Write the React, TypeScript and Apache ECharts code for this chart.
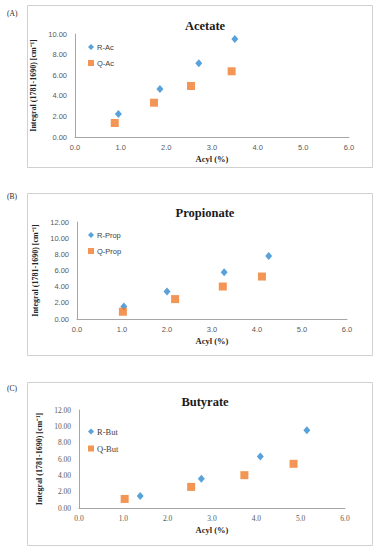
import React, { useEffect, useRef } from "react";
import * as echarts from "echarts";

const panelTitles = ["Acetate", "Propionate", "Butyrate"];
const panelLabels = ["(A)", "(B)", "(C)"];
const rNames = ["R-Ac", "R-Prop", "R-But"];
const qNames = ["Q-Ac", "Q-Prop", "Q-But"];

const acetateRX = [0.95, 1.86, 2.71, 3.5];
const acetateRY = [2.23, 4.66, 7.15, 9.51];
const acetateQX = [0.87, 1.73, 2.54, 3.43];
const acetateQY = [1.36, 3.33, 4.95, 6.38];

const propRX = [1.04, 2.0, 3.27, 4.26];
const propRY = [1.56, 3.4, 5.78, 7.79];
const propQX = [1.02, 2.18, 3.24, 4.11];
const propQY = [0.9, 2.46, 4.02, 5.25];

const butRX = [1.38, 2.76, 4.09, 5.14];
const butRY = [1.48, 3.57, 6.31, 9.51];
const butQX = [1.03, 2.53, 3.73, 4.84];
const butQY = [1.11, 2.58, 4.02, 5.41];

const yMaxes = [10, 12, 12];
const xMax = 6;

const pair = (xs: number[], ys: number[]) => xs.map((x, i) => [x, ys[i]]);

export default function App() {
  const ref = useRef<HTMLDivElement>(null);
  useEffect(() => {
    document.body.style.margin = "0";
    const chart = echarts.init(ref.current!, null, { renderer: "svg" });
    const rData = [pair(acetateRX, acetateRY), pair(propRX, propRY), pair(butRX, butRY)];
    const qData = [pair(acetateQX, acetateQY), pair(propQX, propQY), pair(butQX, butQY)];

    const grids = [
      { left: 75, right: 28, top: 34, bottom: 413 },
      { left: 77, right: 30, top: 222, bottom: 231 },
      { left: 79, right: 32, top: 410, bottom: 42 },
    ];
    const boxes = [
      { y: 5, h: 162 },
      { y: 193, h: 162 },
      { y: 382, h: 163 },
    ];
    const titleY = [21, 208, 397];
    const labelY = [13, 196, 388];
    const legendTop = [38, 226, 422];
    const yNameGap = [33, 37, 36];
    const tickFont = ["Liberation Sans", "Liberation Sans", "Liberation Serif"];
    const legendFont = ["Liberation Sans", "Liberation Sans", "Liberation Serif"];
    const legendSize = [7.5, 7.5, 8.5];

    const xAxis: any[] = [];
    const yAxis: any[] = [];
    const series: any[] = [];
    const title: any[] = [];
    const legend: any[] = [];
    const graphic: any[] = [];

    for (let i = 0; i < 3; i++) {
      xAxis.push({
        type: "value",
        gridIndex: i,
        min: 0,
        max: xMax,
        interval: 1,
        name: "Acyl (%)",
        nameLocation: "middle",
        nameGap: 17,
        nameTextStyle: { fontFamily: "Liberation Serif", fontWeight: "bold", fontSize: 8.5, color: "#262626" },
        axisLine: { show: true, lineStyle: { color: "#a6a6a6", width: 1 } },
        axisTick: { show: false },
        splitLine: { show: false },
        axisLabel: {
          formatter: (v: number) => v.toFixed(1),
          fontFamily: tickFont[i],
          fontSize: 7.5,
          color: "#595959",
          margin: 6,
        },
      });
      yAxis.push({
        type: "value",
        gridIndex: i,
        min: 0,
        max: yMaxes[i],
        interval: 2,
        name: "Integral (1781-1690) [cm⁻¹]",
        nameLocation: "middle",
        nameGap: yNameGap[i],
        nameRotate: 90,
        nameTextStyle: { fontFamily: "Liberation Serif", fontWeight: "bold", fontSize: 8, color: "#262626" },
        axisLine: { show: true, lineStyle: { color: "#a6a6a6", width: 1 } },
        axisTick: { show: false },
        splitLine: { show: false },
        axisLabel: {
          formatter: (v: number) => v.toFixed(2),
          fontFamily: tickFont[i],
          fontSize: 7.5,
          color: "#595959",
          margin: 8,
        },
      });
      series.push({
        type: "scatter",
        name: rNames[i],
        xAxisIndex: i,
        yAxisIndex: i,
        data: rData[i],
        symbol: "diamond",
        symbolSize: [7, 8],
        itemStyle: { color: "#2E8BD0" },
      });
      series.push({
        type: "scatter",
        name: qNames[i],
        xAxisIndex: i,
        yAxisIndex: i,
        data: qData[i],
        symbol: "rect",
        symbolSize: 8,
        itemStyle: { color: "#F07A2A" },
      });
      title.push({
        text: panelTitles[i],
        left: 200,
        top: titleY[i],
        textAlign: "center",
        textVerticalAlign: "middle",
        textStyle: { fontFamily: "Liberation Serif", fontWeight: "bold", fontSize: 12.5, color: "#1a1a1a" },
      });
      legend.push({
        data: [
          { name: rNames[i], icon: "diamond" },
          { name: qNames[i], icon: "rect" },
        ],
        orient: "vertical",
        left: 83,
        top: legendTop[i],
        itemGap: 8,
        itemWidth: 6,
        itemHeight: 6,
        textStyle: { fontFamily: legendFont[i], fontSize: legendSize[i], color: "#404040", padding: [0, 0, 0, -2] },
      });
      graphic.push({
        type: "rect",
        shape: { x: 27.5, y: boxes[i].y + 0.5, width: 345, height: boxes[i].h },
        style: { fill: "none", stroke: "#d0d0d0", lineWidth: 1 },
        z: -1,
      });
      graphic.push({
        type: "text",
        x: 7,
        y: labelY[i],
        style: {
          text: panelLabels[i],
          font: "7.5px 'Liberation Serif'",
          fill: "#262626",
          verticalAlign: "middle",
        },
      });
    }

    chart.setOption({
      animation: false,
      backgroundColor: "#ffffff",
      grid: grids,
      xAxis,
      yAxis,
      series,
      title,
      legend,
      graphic,
    });
    return () => chart.dispose();
  }, []);
  return <div ref={ref} style={{ width: 377, height: 550 }} />;
}
